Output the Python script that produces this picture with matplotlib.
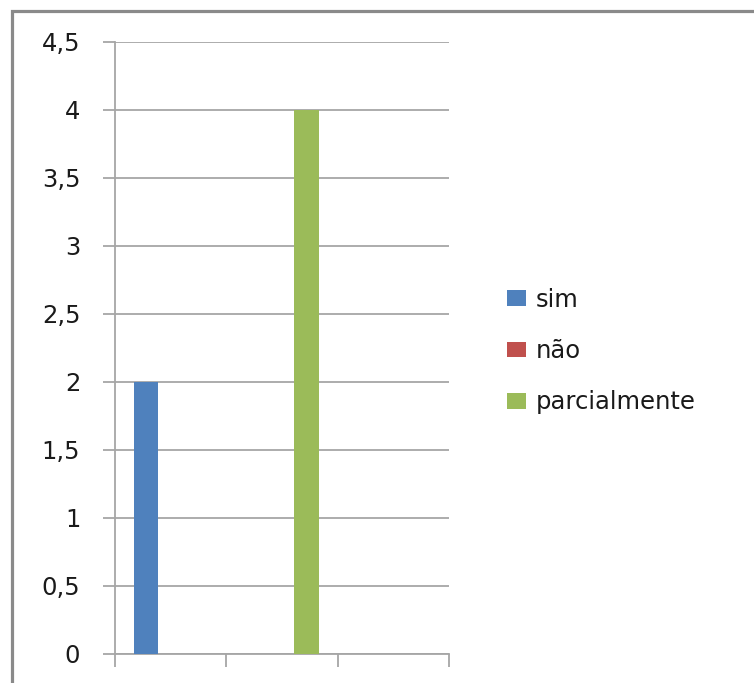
import matplotlib
matplotlib.use("Agg")
import matplotlib.pyplot as plt
from matplotlib.patches import Rectangle
from matplotlib.ticker import FuncFormatter, MultipleLocator
import numpy as np

plt.rcParams['font.family'] = ['DejaVu Sans']

categories = ["", "", ""]
series_names = ["sim", "não", "parcialmente"]
sim = [2, 0, 0]
nao = [0, 0, 0]
parcialmente = [0, 4, 0]
colors = ["#4f81bd", "#c0504d", "#9bbb59"]

W, H = 754, 683
fig = plt.figure(figsize=(W / 100, H / 100), dpi=100)

# outer chart frame
fig.patches.append(Rectangle((12 / W, -0.1), 1.2, 1 - 11 / H + 0.1,
                             transform=fig.transFigure, fill=False,
                             edgecolor="#8a8a8a", linewidth=2.3))

ax = fig.add_axes([115 / W, (H - 653.5) / H, (449 - 115) / W, (653.5 - 42) / H])

n_series = 3
gap = 1.5
bw = 1 / (n_series + gap)
x = np.arange(len(categories))
for i, (vals, name, c) in enumerate(zip([sim, nao, parcialmente], series_names, colors)):
    offs = -0.5 + gap / 2 * bw + (i + 0.5) * bw
    ax.bar(x + offs, vals, width=bw, color=c, label=name, zorder=3)

ax.set_xlim(-0.5, len(categories) - 0.5)
ax.set_ylim(0, 4.5)
ax.yaxis.set_major_locator(MultipleLocator(0.5))
ax.yaxis.set_major_formatter(FuncFormatter(
    lambda v, p: ("%g" % v).replace(".", ",")))
ax.set_xticks(np.arange(-0.5, len(categories), 1.0))
ax.set_xticklabels([])

ax.grid(axis="y", color="#a6a6a6", linewidth=1.3, zorder=0)
for s in ["top", "right"]:
    ax.spines[s].set_visible(False)
for s in ["left", "bottom"]:
    ax.spines[s].set_color("#a6a6a6")
    ax.spines[s].set_linewidth(1.3)
ax.tick_params(axis="y", length=9, width=1.3, color="#a6a6a6",
               labelsize=17.5, labelcolor="#1a1a1a", pad=16)
ax.tick_params(axis="x", length=9, width=1.3, color="#a6a6a6")

leg = ax.legend(loc="center left", bbox_to_anchor=(507 / W, (H - 351) / H),
                bbox_transform=fig.transFigure, frameon=False, fontsize=17.5,
                handlelength=0.78, handleheight=0.62, handletextpad=0.4,
                labelspacing=1.12, borderaxespad=0, borderpad=0)
for t in leg.get_texts():
    t.set_color("#1a1a1a")

fig.savefig("out.png", dpi=100)
